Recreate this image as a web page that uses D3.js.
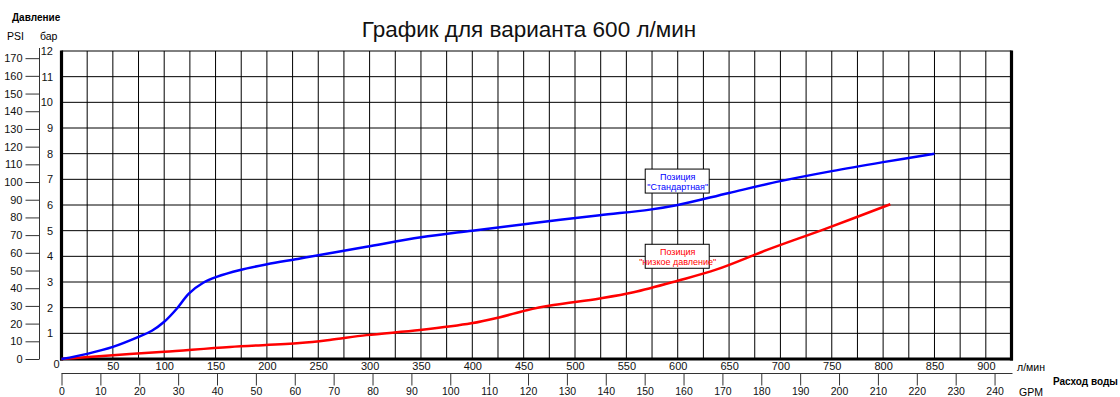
<!DOCTYPE html>
<html>
<head>
<meta charset="utf-8">
<script src="https://cdn.jsdelivr.net/npm/d3@7"></script>
<style>
  html, body { margin: 0; padding: 0; background: #fff; }
  svg { display: block; font-family: Arial, "Liberation Sans", sans-serif; }
</style>
</head>
<body>
<svg id="chart" width="1120" height="397"></svg>
<script>
// Pressure vs. flow curves for the 600 l/min variant
const standardFlow     = [0, 25, 50, 75, 88, 100, 112, 124, 138, 151, 174, 200, 230, 261, 297, 350, 400, 460, 524, 573, 600, 650, 700, 750, 800, 850];
const standardPressure = [0, 0.2, 0.47, 0.86, 1.1, 1.45, 1.95, 2.55, 2.97, 3.2, 3.47, 3.69, 3.9, 4.12, 4.37, 4.74, 5.0, 5.3, 5.6, 5.82, 6.0, 6.47, 6.93, 7.32, 7.67, 8.0];

const lowFlow     = [0, 50, 100, 164, 232, 261, 297, 349, 399, 427, 453, 479, 524, 557, 600, 638, 687, 745, 807];
const lowPressure = [0, 0.15, 0.28, 0.47, 0.62, 0.74, 0.93, 1.13, 1.39, 1.63, 1.9, 2.1, 2.36, 2.6, 3.05, 3.49, 4.25, 5.09, 6.03];

const flowTicks  = d3.range(50, 901, 50);   // l/min labels
const gpmTicks   = d3.range(0, 241, 10);    // US gal/min
const psiTicks   = d3.range(0, 171, 10);
const barTicks   = d3.range(1, 13, 1);

const LPM_PER_GPM = 3.78541;
const PSI_PER_BAR = 14.5038;
const FLOW_MAX = 925, BAR_MAX = 12;

const svg = d3.select("#chart");
const plotL = 61.5, plotR = 1011.5, plotT = 51, plotB = 359;

const x = d3.scaleLinear().domain([0, FLOW_MAX]).range([plotL, plotR]);
const y = d3.scaleLinear().domain([0, BAR_MAX]).range([plotB, plotT]);
const psi = d3.scaleLinear().domain([0, BAR_MAX * PSI_PER_BAR]).range([plotB, plotT]);
const gpm = d3.scaleLinear().domain([0, FLOW_MAX / LPM_PER_GPM]).range([plotL, plotR]);

// Title
svg.append("text")
  .attr("x", 529).attr("y", 37)
  .attr("text-anchor", "middle")
  .attr("font-size", 22.5).attr("fill", "#111")
  .text("График для варианта 600 л/мин");

// Axis captions
svg.append("text").attr("x", 12).attr("y", 21).attr("font-size", 10).attr("font-weight", "bold").text("Давление");
svg.append("text").attr("x", 7).attr("y", 39.5).attr("font-size", 10.5).text("PSI");
svg.append("text").attr("x", 40).attr("y", 39.5).attr("font-size", 10.5).text("бар");
svg.append("text").attr("x", 1017).attr("y", 370.5).attr("font-size", 10.5).text("л/мин");
svg.append("text").attr("x", 1019).attr("y", 396).attr("font-size", 10.5).text("GPM");
svg.append("text").attr("x", 1053).attr("y", 385).attr("font-size", 10).attr("font-weight", "bold").text("Расход воды");

// Grid
const grid = svg.append("g").attr("stroke", "#000").attr("stroke-width", 1);
grid.selectAll("line.v").data(d3.range(25, 901, 25)).join("line")
  .attr("class", "v")
  .attr("x1", d => x(d)).attr("x2", d => x(d))
  .attr("y1", plotT).attr("y2", plotB);
grid.selectAll("line.h").data(d3.range(1, 12, 1)).join("line")
  .attr("class", "h")
  .attr("x1", plotL).attr("x2", plotR)
  .attr("y1", d => y(d)).attr("y2", d => y(d));

// Frame: thin top, heavy left/right/bottom
svg.append("line").attr("x1", plotL).attr("x2", plotR).attr("y1", plotT).attr("y2", plotT)
  .attr("stroke", "#000").attr("stroke-width", 1);
svg.append("line").attr("x1", plotL).attr("x2", plotL).attr("y1", plotT - 0.5).attr("y2", plotB + 1.5)
  .attr("stroke", "#000").attr("stroke-width", 3.2);
svg.append("line").attr("x1", plotR).attr("x2", plotR).attr("y1", plotT - 0.5).attr("y2", plotB + 1.5)
  .attr("stroke", "#000").attr("stroke-width", 3.2);
svg.append("line").attr("x1", plotL - 1.5).attr("x2", plotR + 1.5).attr("y1", plotB).attr("y2", plotB)
  .attr("stroke", "#000").attr("stroke-width", 3.2);

function styleAxis(g) {
  g.selectAll("text").attr("font-size", 11).attr("fill", "#111").attr("font-family", "Arial, 'Liberation Sans', sans-serif");
  g.selectAll("line").attr("stroke", "#333");
  g.select(".domain").attr("stroke", "#333");
}

// PSI axis (left)
svg.append("g")
  .attr("transform", "translate(39.5,0)")
  .call(d3.axisLeft(psi).tickValues(psiTicks).tickSize(14).tickPadding(3).tickSizeOuter(0))
  .call(styleAxis)
  .call(g => g.select(".domain").attr("d", `M0,${plotT - 3}V${plotB}`));

// bar labels, right of the PSI axis line
svg.append("g")
  .attr("transform", "translate(55,0)")
  .call(d3.axisLeft(y).tickValues(barTicks).tickSize(0).tickPadding(2))
  .call(styleAxis)
  .call(g => g.select(".domain").remove());

// shared zero at the origin
svg.append("text").attr("x", 56.5).attr("y", 368).attr("text-anchor", "middle")
  .attr("font-size", 11).attr("fill", "#111").text("0");

// l/min labels under the plot
svg.append("g")
  .attr("transform", `translate(0,${plotB + 1})`)
  .call(d3.axisBottom(x).tickValues(flowTicks).tickSize(0).tickPadding(0))
  .call(styleAxis)
  .call(g => g.select(".domain").remove())
  .call(g => g.selectAll("text").attr("dy", "0.71em").attr("y", 2.5));

// GPM axis
svg.append("g")
  .attr("transform", "translate(0,373.5)")
  .call(d3.axisBottom(gpm).tickValues(gpmTicks).tickSize(12).tickPadding(2).tickSizeOuter(0))
  .call(styleAxis)
  .call(g => g.select(".domain").attr("d", `M${plotL},0H${plotR + 1}`))
  .call(g => g.selectAll("text").attr("dy", "0.71em").attr("font-size", 10.5));

// Curves
const line = d3.line().x(d => x(d[0])).y(d => y(d[1])).curve(d3.curveCatmullRom.alpha(0.5));

svg.append("path")
  .datum(d3.zip(lowFlow, lowPressure))
  .attr("d", line)
  .attr("fill", "none").attr("stroke", "#ff0000").attr("stroke-width", 2.5);

svg.append("path")
  .datum(d3.zip(standardFlow, standardPressure))
  .attr("d", line)
  .attr("fill", "none").attr("stroke", "#0000ff").attr("stroke-width", 2.5);

// Curve labels
function curveLabel(cx, topBar, lines, color) {
  const g = svg.append("g");
  const bx = x(cx) - 32.5, by = y(topBar);
  g.append("rect").attr("x", bx).attr("y", by).attr("width", 64).attr("height", 24)
    .attr("fill", "#fff").attr("stroke", "#000").attr("stroke-width", 1);
  g.selectAll("text").data(lines).join("text")
    .attr("x", x(cx)).attr("y", (d, i) => by + 10.5 + i * 10)
    .attr("text-anchor", "middle").attr("font-size", 9).attr("fill", color)
    .text(d => d);
}
curveLabel(600, 7.4, ["Позиция", "\"Стандартная\""], "#0000ff");
curveLabel(600, 4.47, ["Позиция", "\"низкое давление\""], "#ff0000");
</script>
</body>
</html>
